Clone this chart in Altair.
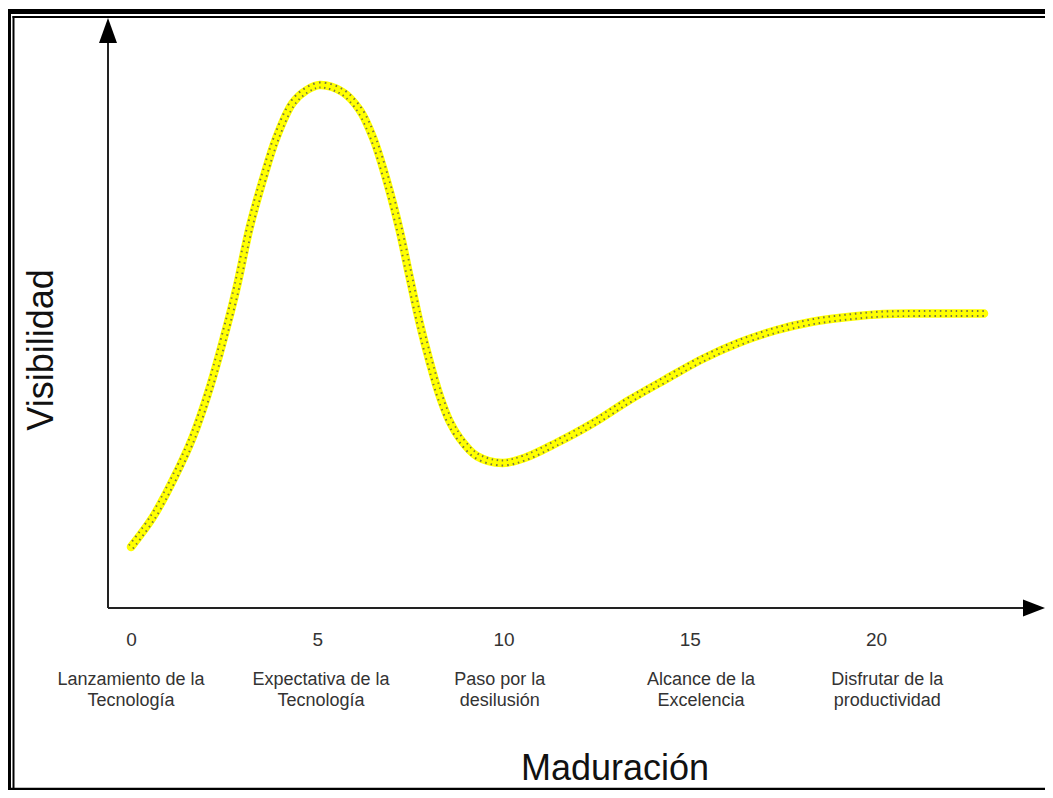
import altair as alt
import pandas as pd

# Hype-cycle curve (Maduración vs Visibilidad)
curve_x = [0, 0.59, 1.13, 1.66, 2.12, 2.57, 2.84, 3.19, 3.54, 3.91, 4.34, 4.72,
           5.07, 5.68, 6.14, 6.49, 6.86, 7.21, 7.48, 7.75, 8.02, 8.28, 8.55, 8.82,
           9.28, 9.97, 10.56, 11.42, 12.41, 13.38, 14.37, 15.34, 16.30, 17.29,
           18.26, 19.25, 20.21, 21.18, 22.17, 22.90]
curve_y = [12.2, 18.2, 25.6, 34.2, 44.2, 56.2, 64.2, 76.2, 85.6, 94.2, 101.0, 103.6,
           104.6, 103.2, 99.6, 94.2, 85.6, 75.6, 66.2, 57.0, 49.2, 42.6, 37.4, 34.0,
           30.4, 29.0, 30.0, 33.0, 37.0, 41.6, 45.8, 49.8, 53.0, 55.5,
           57.2, 58.2, 58.8, 58.9, 58.9, 58.9]

tick_values = [0, 5, 10, 15, 20]
phase_x = [0, 5.1, 9.9, 15.3, 20.3]
phase_labels = ["Lanzamiento de la\nTecnología",
                "Expectativa de la\nTecnología",
                "Paso por la\ndesilusión",
                "Alcance de la\nExcelencia",
                "Disfrutar de la\nproductividad"]

x_title = "Maduración"
y_title = "Visibilidad"

FONT = "Liberation Sans"

curve_df = pd.DataFrame({"x": curve_x, "y": curve_y})
phase_df = pd.DataFrame({"lx": phase_x, "label": phase_labels})
dummy = pd.DataFrame({"d": [0]})

xscale = alt.Scale(domain=[-0.617, 24.537], nice=False, zero=False)
yscale = alt.Scale(domain=[0, 117.6], nice=False, zero=False)
xaxis = alt.Axis(values=tick_values, title=None, domain=False, ticks=False, tickSize=0,
                 grid=False, labelFont=FONT, labelFontSize=19, labelColor="#333333",
                 labelPadding=37, labelBaseline="alphabetic", labelFlush=False,
                 format="d")


def xq(field):
    return alt.X(field, type="quantitative", scale=xscale, axis=xaxis)


def yq(field):
    return alt.Y(field, type="quantitative", scale=yscale, axis=None)


INTERP = "catmull-rom"
base = alt.Chart(curve_df)
yellow_wide = base.mark_line(color="#FFFF00", strokeWidth=8.5, interpolate=INTERP,
                             strokeCap="round").encode(x=xq("x"), y=yq("y"))
dots = base.mark_line(color="#555555", strokeWidth=7, strokeDash=[1.5, 3.8],
                      interpolate=INTERP, opacity=0.8).encode(x=xq("x"), y=yq("y"))
yellow_core = base.mark_line(color="#FFFF00", strokeWidth=3.2, interpolate=INTERP,
                             strokeCap="round").encode(x=xq("x"), y=yq("y"))

phases = alt.Chart(phase_df).mark_text(
    font=FONT, fontSize=18, lineBreak="\n", lineHeight=21, align="center",
    baseline="alphabetic", color="#333333"
).encode(x=xq("lx"), y=alt.value(665), text="label:N")

d = alt.Chart(dummy)
# axis lines and arrow heads
y_axis_line = d.mark_rule(color="#222222", strokeWidth=2).encode(
    x=alt.value(0), y=alt.value(588), y2=alt.value(20))
x_axis_line = d.mark_rule(color="#222222", strokeWidth=2).encode(
    x=alt.value(0), x2=alt.value(920), y=alt.value(588))
y_arrow = d.mark_point(shape="M0,-1L0.72,1L-0.72,1Z", size=625, filled=True,
                       color="#000000", opacity=1).encode(x=alt.value(0), y=alt.value(10.5))
x_arrow = d.mark_point(shape="M1,0L-1,0.77L-1,-0.77Z", size=484, filled=True,
                       color="#000000", opacity=1).encode(x=alt.value(926), y=alt.value(588))

# titles
x_title_mark = d.mark_text(font=FONT, fontSize=36, align="center", baseline="alphabetic",
                           color="#111111").encode(
    x=alt.value(507), y=alt.value(760), text=alt.value(x_title))
y_title_mark = d.mark_text(font=FONT, fontSize=36, align="center", baseline="alphabetic",
                           angle=270, color="#111111").encode(
    x=alt.value(-55), y=alt.value(330), text=alt.value(y_title))

# frame
frame_left_thick = d.mark_rule(color="#000000", strokeWidth=5).encode(
    x=alt.value(-99.5), y=alt.value(-11), y2=alt.value(775))
frame_left_thin = d.mark_rule(color="#000000", strokeWidth=2).encode(
    x=alt.value(-94.5), y=alt.value(-4), y2=alt.value(775))
frame_top_thick = d.mark_rule(color="#000000", strokeWidth=5).encode(
    x=alt.value(-102), x2=alt.value(940), y=alt.value(-8.5))
frame_top_thin = d.mark_rule(color="#000000", strokeWidth=2).encode(
    x=alt.value(-95.5), x2=alt.value(940), y=alt.value(-3))
frame_bottom = d.mark_rule(color="#000000", strokeWidth=2.5).encode(
    x=alt.value(-102), x2=alt.value(940), y=alt.value(769))

chart = alt.layer(
    frame_left_thick, frame_left_thin, frame_top_thick, frame_top_thin, frame_bottom,
    y_axis_line, x_axis_line, y_arrow, x_arrow,
    yellow_wide, dots, yellow_core, phases, x_title_mark, y_title_mark
).properties(
    width=937, height=588,
    autosize=alt.AutoSizeParams(type="none"),
    padding={"left": 100, "top": 12, "right": 0, "bottom": 182},
    background="white"
).configure_view(stroke=None)

chart.save("out.html", embed_options={"renderer": "svg", "actions": False})
